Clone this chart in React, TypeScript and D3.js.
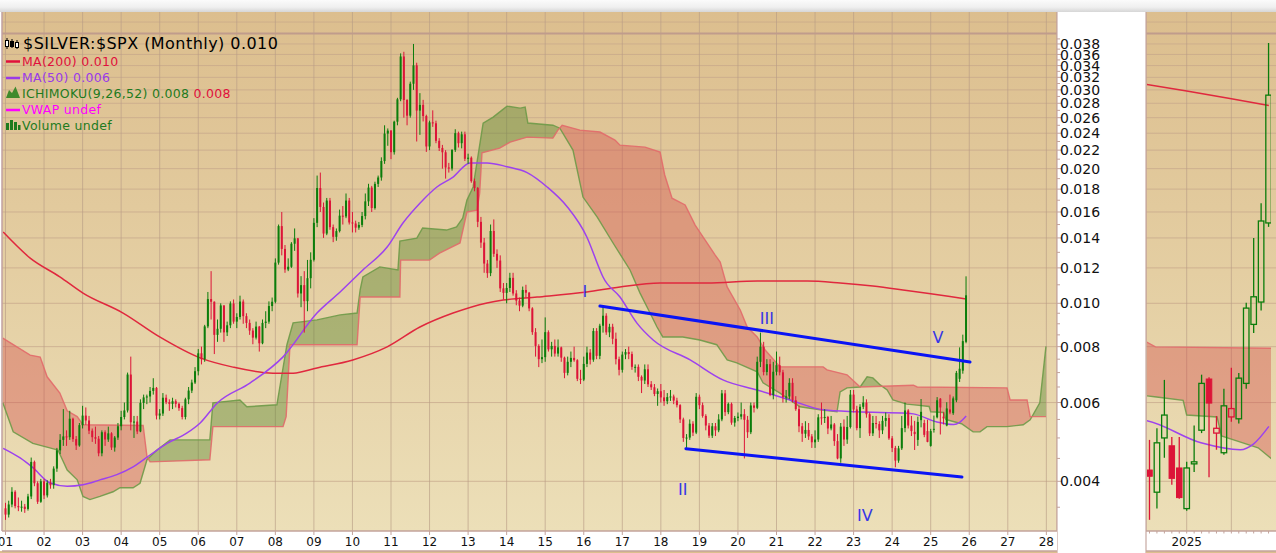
import React from "react";
import * as d3 from "d3";

type P = [number, number];

// ---------------- DATA (monthly $SILVER:$SPX, Jan 2001 .. Dec 2025) ----------------
const firstYear = 2001;

const opens: number[] = [
  0.00348, 0.00337, 0.00355, 0.00379, 0.00352, 0.0035, 0.00351, 0.00347, 0.0037, 0.00442, 0.00396, 0.0036,
  0.004, 0.00372, 0.00397, 0.00392, 0.00427, 0.00469, 0.00495, 0.00504, 0.00502, 0.00552, 0.00497, 0.00481,
  0.00534, 0.00561, 0.00547, 0.00519, 0.00502, 0.00498, 0.00462, 0.00515, 0.00496, 0.00512, 0.00476, 0.00501,
  0.00531, 0.00557, 0.00576, 0.00693, 0.00542, 0.00544, 0.00517, 0.00599, 0.00616, 0.00619, 0.00637, 0.00647,
  0.00561, 0.00567, 0.00615, 0.00601, 0.00596, 0.00604, 0.00596, 0.00583, 0.00557, 0.0061, 0.00638, 0.00665,
  0.00705, 0.00773, 0.0075, 0.00888, 0.01022, 0.01008, 0.0085, 0.00877, 0.00989, 0.00861, 0.00893, 0.00999,
  0.0091, 0.00932, 0.01009, 0.00936, 0.00904, 0.00869, 0.00838, 0.00887, 0.00814, 0.00904, 0.0091, 0.00986,
  0.01008, 0.01233, 0.01488, 0.01323, 0.0119, 0.01207, 0.01359, 0.01397, 0.01052, 0.01098, 0.01011, 0.01138,
  0.01251, 0.01513, 0.0181, 0.01642, 0.01432, 0.01697, 0.0148, 0.01408, 0.0145, 0.0157, 0.01564, 0.01697,
  0.01516, 0.01508, 0.01476, 0.01497, 0.01567, 0.0169, 0.01814, 0.01633, 0.01849, 0.01911, 0.0208, 0.02396,
  0.02432, 0.02177, 0.02547, 0.02858, 0.03563, 0.02848, 0.02627, 0.03096, 0.03404, 0.02697, 0.02777, 0.02622,
  0.02242, 0.02538, 0.02526, 0.02308, 0.02225, 0.02176, 0.02012, 0.02001, 0.02203, 0.02401, 0.0228, 0.02387,
  0.02104, 0.02116, 0.01875, 0.0181, 0.01521, 0.01367, 0.01227, 0.01168, 0.01451, 0.0129, 0.01246, 0.0108,
  0.01055, 0.01082, 0.0114, 0.01052, 0.01014, 0.00988, 0.01071, 0.01056, 0.00974, 0.00862, 0.00803, 0.0075,
  0.00758, 0.00862, 0.00789, 0.00803, 0.00772, 0.00797, 0.00756, 0.00699, 0.0074, 0.00755, 0.00746, 0.00678,
  0.00675, 0.00732, 0.00776, 0.00748, 0.00867, 0.00763, 0.00891, 0.00938, 0.00861, 0.00886, 0.00833, 0.0075,
  0.0071, 0.00768, 0.00778, 0.0077, 0.00721, 0.00721, 0.00685, 0.00672, 0.00712, 0.00659, 0.00649, 0.00627,
  0.00636, 0.00616, 0.00604, 0.00617, 0.00619, 0.00606, 0.00592, 0.0055, 0.005, 0.00501, 0.00538, 0.00514,
  0.00618, 0.00592, 0.0056, 0.00533, 0.00506, 0.00531, 0.0052, 0.0055, 0.00629, 0.00571, 0.00596, 0.00541,
  0.00554, 0.00558, 0.00565, 0.00549, 0.00515, 0.00591, 0.00584, 0.0074, 0.008, 0.00702, 0.00731, 0.00624,
  0.00703, 0.00727, 0.00701, 0.00617, 0.00619, 0.00664, 0.00607, 0.0058, 0.00531, 0.00511, 0.00521, 0.00504,
  0.00489, 0.00496, 0.00556, 0.00554, 0.00557, 0.00525, 0.00536, 0.00492, 0.0045, 0.0053, 0.00496, 0.00529,
  0.00625, 0.00579, 0.00526, 0.00587, 0.006, 0.00565, 0.00512, 0.0054, 0.00537, 0.0052, 0.00546, 0.00554,
  0.00499, 0.00475, 0.00445, 0.00474, 0.00526, 0.00576, 0.00533, 0.00516, 0.00495, 0.00548, 0.0054, 0.00518,
  0.0048, 0.00522, 0.00556, 0.00612, 0.00553, 0.00533, 0.0057, 0.00568, 0.00607, 0.00678, 0.00707, 0.0082,
];

const highs: number[] = [
  0.00358, 0.00362, 0.00388, 0.00382, 0.00368, 0.00362, 0.00356, 0.00375, 0.00452, 0.00445, 0.004, 0.00405,
  0.00405, 0.00402, 0.00405, 0.00432, 0.00475, 0.0051, 0.0058, 0.0052, 0.00575, 0.00555, 0.00505, 0.0054,
  0.0059, 0.00585, 0.0056, 0.00525, 0.0053, 0.00505, 0.0052, 0.0052, 0.0053, 0.00515, 0.00505, 0.0054,
  0.00575, 0.006, 0.007, 0.0076, 0.0056, 0.0056, 0.0061, 0.00625, 0.00625, 0.0065, 0.0068, 0.0065,
  0.0058, 0.0063, 0.00625, 0.0061, 0.00615, 0.0061, 0.006, 0.0059, 0.00615, 0.0065, 0.00675, 0.0072,
  0.0079, 0.008, 0.00895, 0.0106, 0.0118, 0.0101, 0.0092, 0.01, 0.0099, 0.0091, 0.0101, 0.0102,
  0.0095, 0.0104, 0.0102, 0.0095, 0.0092, 0.0088, 0.0091, 0.0089, 0.0092, 0.0096, 0.0101, 0.0103,
  0.0126, 0.015, 0.016, 0.0135, 0.0126, 0.0137, 0.0147, 0.014, 0.0115, 0.0118, 0.0125, 0.013,
  0.0155, 0.0193, 0.0196, 0.0168, 0.0172, 0.0172, 0.015, 0.0147, 0.0162, 0.0165, 0.0176, 0.0172,
  0.016, 0.0153, 0.0152, 0.016, 0.0176, 0.0185, 0.0183, 0.0187, 0.0193, 0.0212, 0.025, 0.0246,
  0.0244, 0.0256, 0.0288, 0.0362, 0.0365, 0.0286, 0.0313, 0.038, 0.0345, 0.0295, 0.0285, 0.0264,
  0.0256, 0.027, 0.0256, 0.0234, 0.0226, 0.022, 0.0206, 0.0221, 0.0245, 0.0242, 0.0242, 0.0242,
  0.0216, 0.0213, 0.019, 0.0182, 0.0156, 0.014, 0.0125, 0.015, 0.0154, 0.0132, 0.0128, 0.0111,
  0.0111, 0.0117, 0.0117, 0.0107, 0.0103, 0.0109, 0.011, 0.0106, 0.0098, 0.0088, 0.0081, 0.0083,
  0.0093, 0.0087, 0.0082, 0.0083, 0.0083, 0.008, 0.0076, 0.0076, 0.0078, 0.008, 0.0075, 0.0071,
  0.0076, 0.008, 0.0079, 0.0088, 0.0088, 0.009, 0.0098, 0.0095, 0.009, 0.009, 0.0086, 0.0076,
  0.0078, 0.0079, 0.008, 0.0078, 0.0073, 0.0073, 0.0069, 0.0073, 0.0073, 0.0067, 0.0066, 0.00645,
  0.0066, 0.0064, 0.0063, 0.0064, 0.00625, 0.00615, 0.00595, 0.00555, 0.0051, 0.0055, 0.00545, 0.0063,
  0.00625, 0.006, 0.00565, 0.0054, 0.0054, 0.0054, 0.00565, 0.0064, 0.0064, 0.006, 0.006, 0.0056,
  0.0057, 0.006, 0.0058, 0.0056, 0.006, 0.006, 0.0076, 0.0086, 0.0082, 0.0075, 0.0075, 0.0074,
  0.0078, 0.0076, 0.0071, 0.0064, 0.0068, 0.0068, 0.0062, 0.0059, 0.0054, 0.00545, 0.0054, 0.0051,
  0.0052, 0.00565, 0.006, 0.0058, 0.0056, 0.0056, 0.0054, 0.0051, 0.0054, 0.0055, 0.0056, 0.0064,
  0.0064, 0.0059, 0.00595, 0.0062, 0.0061, 0.0057, 0.0056, 0.0056, 0.00545, 0.0056, 0.0057, 0.00565,
  0.00505, 0.0048, 0.0048, 0.0056, 0.006, 0.0058, 0.0056, 0.00546, 0.00558, 0.00611, 0.00549, 0.00549,
  0.00524, 0.00561, 0.00617, 0.00614, 0.00571, 0.00601, 0.00625, 0.00619, 0.00706, 0.00797, 0.00851, 0.01149,
];

const lows: number[] = [
  0.00328, 0.00332, 0.0035, 0.00348, 0.00343, 0.00342, 0.0034, 0.00344, 0.00365, 0.0039, 0.00356, 0.00358,
  0.00365, 0.00368, 0.00385, 0.00385, 0.0042, 0.0046, 0.0048, 0.0048, 0.00495, 0.0049, 0.0047, 0.00478,
  0.00525, 0.00535, 0.0051, 0.0049, 0.00485, 0.00455, 0.00455, 0.0048, 0.0049, 0.0047, 0.00466, 0.00495,
  0.0052, 0.0055, 0.0057, 0.0052, 0.005, 0.0051, 0.00515, 0.0058, 0.00595, 0.006, 0.00625, 0.0055,
  0.0055, 0.0056, 0.00595, 0.00575, 0.0058, 0.00585, 0.00575, 0.0055, 0.0055, 0.00595, 0.0063, 0.0066,
  0.0069, 0.0073, 0.0074, 0.0088, 0.0092, 0.0077, 0.0082, 0.0086, 0.0082, 0.00845, 0.0088, 0.009,
  0.0088, 0.0092, 0.009, 0.0088, 0.0085, 0.0081, 0.0083, 0.0078, 0.0081, 0.0088, 0.009, 0.0096,
  0.01, 0.0122, 0.0128, 0.0117, 0.0118, 0.012, 0.0131, 0.0103, 0.0098, 0.0086, 0.0096, 0.0108,
  0.0124, 0.0148, 0.016, 0.014, 0.0142, 0.0146, 0.0137, 0.0138, 0.0144, 0.015, 0.0155, 0.015,
  0.0144, 0.0144, 0.0146, 0.0148, 0.0154, 0.0165, 0.016, 0.0162, 0.0182, 0.0188, 0.0205, 0.0225,
  0.021, 0.0215, 0.025, 0.0283, 0.026, 0.025, 0.026, 0.03, 0.023, 0.0238, 0.0255, 0.0218,
  0.022, 0.0248, 0.0228, 0.0219, 0.02, 0.019, 0.0196, 0.0198, 0.0218, 0.0223, 0.0222, 0.0208,
  0.0205, 0.0186, 0.0178, 0.0148, 0.0133, 0.0117, 0.0114, 0.0115, 0.0127, 0.012, 0.0106, 0.0102,
  0.01, 0.0106, 0.0104, 0.0099, 0.0096, 0.0098, 0.0103, 0.0096, 0.0085, 0.0076, 0.0072, 0.00735,
  0.0074, 0.0078, 0.0076, 0.0076, 0.0076, 0.0074, 0.0068, 0.0069, 0.0072, 0.0074, 0.0067, 0.0066,
  0.0067, 0.0072, 0.0073, 0.0074, 0.0075, 0.0075, 0.0086, 0.0085, 0.0084, 0.0081, 0.0073, 0.0069,
  0.007, 0.0075, 0.0075, 0.0071, 0.007, 0.0067, 0.0063, 0.0066, 0.0065, 0.0064, 0.0062, 0.0059,
  0.006, 0.0059, 0.00595, 0.00605, 0.00595, 0.00585, 0.0054, 0.0049, 0.00475, 0.00495, 0.00505, 0.0051,
  0.0058, 0.00555, 0.0052, 0.005, 0.005, 0.00505, 0.00515, 0.00545, 0.0056, 0.00565, 0.00535, 0.0053,
  0.00545, 0.0055, 0.0045, 0.005, 0.0051, 0.0057, 0.0058, 0.0072, 0.0069, 0.0069, 0.0062, 0.0061,
  0.0069, 0.0069, 0.006, 0.006, 0.0061, 0.006, 0.00575, 0.00515, 0.0049, 0.005, 0.00495, 0.00475,
  0.00475, 0.0049, 0.00535, 0.0054, 0.0051, 0.0052, 0.0048, 0.00448, 0.0044, 0.0048, 0.00485, 0.00525,
  0.0057, 0.0052, 0.005, 0.0058, 0.00555, 0.00505, 0.00505, 0.00525, 0.005, 0.0051, 0.0053, 0.00495,
  0.00465, 0.0043, 0.0044, 0.0047, 0.00515, 0.00525, 0.00505, 0.0047, 0.0048, 0.00528, 0.00502, 0.00489,
  0.00478, 0.00514, 0.00553, 0.00509, 0.00536, 0.00531, 0.00565, 0.00563, 0.00601, 0.00667, 0.00696, 0.00814,
];

const closes: number[] = [
  0.00337, 0.00355, 0.00379, 0.00352, 0.0035, 0.00351, 0.00347, 0.0037, 0.00442, 0.00396, 0.0036, 0.004,
  0.00372, 0.00397, 0.00392, 0.00427, 0.00469, 0.00495, 0.00504, 0.00502, 0.00552, 0.00497, 0.00481, 0.00534,
  0.00561, 0.00547, 0.00519, 0.00502, 0.00498, 0.00462, 0.00515, 0.00496, 0.00512, 0.00476, 0.00501, 0.00531,
  0.00557, 0.00576, 0.00693, 0.00542, 0.00544, 0.00517, 0.00599, 0.00616, 0.00619, 0.00637, 0.00647, 0.00561,
  0.00567, 0.00615, 0.00601, 0.00596, 0.00604, 0.00596, 0.00583, 0.00557, 0.0061, 0.00638, 0.00665, 0.00705,
  0.00773, 0.0075, 0.00888, 0.01022, 0.01008, 0.0085, 0.00877, 0.00989, 0.00861, 0.00893, 0.00999, 0.0091,
  0.00932, 0.01009, 0.00936, 0.00904, 0.00869, 0.00838, 0.00887, 0.00814, 0.00904, 0.0091, 0.00986, 0.01008,
  0.01233, 0.01488, 0.01323, 0.0119, 0.01207, 0.01359, 0.01397, 0.01052, 0.01098, 0.01011, 0.01138, 0.01251,
  0.01513, 0.0181, 0.01642, 0.01432, 0.01697, 0.0148, 0.01408, 0.0145, 0.0157, 0.01564, 0.01697, 0.01516,
  0.01508, 0.01476, 0.01497, 0.01567, 0.0169, 0.01814, 0.01633, 0.01849, 0.01911, 0.0208, 0.02396, 0.02432,
  0.02177, 0.02547, 0.02858, 0.03563, 0.02848, 0.02627, 0.03096, 0.03404, 0.02697, 0.02777, 0.02622, 0.02242,
  0.02538, 0.02526, 0.02308, 0.02225, 0.02176, 0.02012, 0.02001, 0.02203, 0.02401, 0.0228, 0.02387, 0.02104,
  0.02116, 0.01875, 0.0181, 0.01521, 0.01367, 0.01227, 0.01168, 0.01451, 0.0129, 0.01246, 0.0108, 0.01055,
  0.01082, 0.0114, 0.01052, 0.01014, 0.00988, 0.01071, 0.01056, 0.00974, 0.00862, 0.00803, 0.0075, 0.00758,
  0.00862, 0.00789, 0.00803, 0.00772, 0.00797, 0.00756, 0.00699, 0.0074, 0.00755, 0.00746, 0.00678, 0.00675,
  0.00732, 0.00776, 0.00748, 0.00867, 0.00763, 0.00891, 0.00938, 0.00861, 0.00886, 0.00833, 0.0075, 0.0071,
  0.00768, 0.00778, 0.0077, 0.00721, 0.00721, 0.00685, 0.00672, 0.00712, 0.00659, 0.00649, 0.00627, 0.00636,
  0.00616, 0.00604, 0.00617, 0.00619, 0.00606, 0.00592, 0.0055, 0.005, 0.00501, 0.00538, 0.00514, 0.00618,
  0.00592, 0.0056, 0.00533, 0.00506, 0.00531, 0.0052, 0.0055, 0.00629, 0.00571, 0.00596, 0.00541, 0.00554,
  0.00558, 0.00565, 0.00549, 0.00515, 0.00591, 0.00584, 0.0074, 0.008, 0.00702, 0.00731, 0.00624, 0.00703,
  0.00727, 0.00701, 0.00617, 0.00619, 0.00664, 0.00607, 0.0058, 0.00531, 0.00511, 0.00521, 0.00504, 0.00489,
  0.00496, 0.00556, 0.00554, 0.00557, 0.00525, 0.00536, 0.00492, 0.0045, 0.0053, 0.00496, 0.00529, 0.00625,
  0.00579, 0.00526, 0.00587, 0.006, 0.00565, 0.00512, 0.0054, 0.00537, 0.0052, 0.00546, 0.00554, 0.00499,
  0.00475, 0.00445, 0.00474, 0.00526, 0.00576, 0.00533, 0.00518, 0.0051, 0.00543, 0.00572, 0.00508, 0.0049,
  0.00518, 0.00524, 0.00607, 0.00585, 0.00558, 0.00582, 0.00579, 0.00613, 0.00699, 0.00714, 0.00823, 0.01042,
];

const ma200: P[] = [
  [2000.94, 0.01443], [2001.64, 0.01262], [2002.41, 0.01146], [2003.01, 0.01054], [2004.05, 0.00951],
  [2005.01, 0.0084], [2006.05, 0.00755], [2006.9, 0.0072], [2007.94, 0.00698], [2008.46, 0.00698],
  [2009.08, 0.00717], [2010.01, 0.00747], [2010.9, 0.00799], [2011.75, 0.00885], [2012.61, 0.00951],
  [2013.49, 0.01002], [2013.91, 0.01017], [2014.79, 0.01033], [2016.08, 0.0106], [2016.94, 0.01088],
  [2017.98, 0.0111], [2019.2, 0.0111], [2020.5, 0.01121], [2021.8, 0.01121], [2022.65, 0.0111],
  [2023.5, 0.01093], [2024.38, 0.01068], [2025.0, 0.0105], [2025.5, 0.01035], [2025.92, 0.01022],
];

const ma50: P[] = [
  [2000.94, 0.00474], [2001.38, 0.00451], [2001.71, 0.00429], [2002.15, 0.00397], [2002.6, 0.0039],
  [2003.01, 0.00393], [2003.45, 0.00403], [2003.89, 0.00414], [2004.31, 0.00431], [2004.75, 0.00458],
  [2005.19, 0.00486], [2005.71, 0.00513], [2006.05, 0.0054], [2006.49, 0.00598], [2007.34, 0.00663],
  [2008.2, 0.00759], [2009.08, 0.00951], [2009.68, 0.0106], [2010.27, 0.01187], [2010.9, 0.01336],
  [2011.31, 0.01512], [2011.75, 0.01674], [2012.19, 0.0182], [2012.61, 0.01915], [2013.05, 0.0206],
  [2013.49, 0.0206], [2014.01, 0.0202], [2014.53, 0.0196], [2015.05, 0.0182], [2015.57, 0.01644],
  [2016.08, 0.01407], [2016.42, 0.01187], [2016.5, 0.01145], [2016.94, 0.01033], [2017.38, 0.00903],
  [2017.8, 0.00828], [2018.76, 0.00747], [2019.61, 0.00674], [2020.5, 0.0064], [2021.35, 0.00608],
  [2022.21, 0.00578], [2023.09, 0.00572], [2024.38, 0.00568], [2024.55, 0.00566], [2025.16, 0.00543],
  [2025.6, 0.00536], [2025.75, 0.00542], [2025.92, 0.0056],
];

// Ichimoku leading span A (green edge) and span B (red edge), projected 26 months ahead
const spanA: P[] = [
  [2000.93, 0.00599], [2001.2, 0.00516], [2001.71, 0.00486], [2002.15, 0.00475], [2002.36, 0.0047],
  [2002.6, 0.00424], [2002.86, 0.00403], [2003.01, 0.0037], [2003.19, 0.00364], [2003.45, 0.0037],
  [2003.79, 0.00379], [2003.97, 0.00387], [2004.31, 0.00387], [2004.49, 0.00396], [2004.67, 0.00447],
  [2004.93, 0.0047], [2005.27, 0.00495], [2006.3, 0.00495], [2006.38, 0.00599], [2007.08, 0.00608],
  [2007.26, 0.00587], [2008.04, 0.00593], [2008.3, 0.00808], [2008.46, 0.00904], [2009.08, 0.00918],
  [2009.68, 0.00942], [2010.12, 0.00951], [2010.2, 0.01071], [2010.27, 0.01145], [2010.71, 0.01206],
  [2011.18, 0.01187], [2011.23, 0.01378], [2011.67, 0.01399], [2011.82, 0.01474], [2012.44, 0.01458],
  [2012.7, 0.01481], [2012.86, 0.01551], [2012.97, 0.01701], [2013.13, 0.0182], [2013.39, 0.02529],
  [2013.65, 0.02608], [2013.88, 0.02703], [2014.01, 0.02759], [2014.35, 0.02731], [2014.48, 0.02745],
  [2014.55, 0.02529], [2015.2, 0.02501], [2015.38, 0.02463], [2015.72, 0.022], [2015.98, 0.01728],
  [2016.35, 0.01559], [2016.76, 0.01364], [2017.2, 0.01187], [2017.46, 0.01054], [2017.72, 0.00951],
  [2017.9, 0.00885], [2018.05, 0.00841], [2018.57, 0.00841], [2019.01, 0.00828], [2019.45, 0.00808],
  [2019.72, 0.00747], [2019.97, 0.00736], [2020.5, 0.00703], [2020.65, 0.00664], [2021.09, 0.0063],
  [2021.61, 0.00587], [2022.13, 0.00578], [2022.57, 0.00572], [2022.65, 0.00634], [2022.83, 0.00647],
  [2023.17, 0.0065], [2023.35, 0.00685], [2023.5, 0.00681], [2023.69, 0.00657], [2023.87, 0.0064],
  [2024.02, 0.00608], [2024.38, 0.00595], [2024.64, 0.00592], [2024.96, 0.00588], [2025.0, 0.00572],
  [2025.34, 0.0057], [2025.39, 0.0055], [2025.56, 0.00545], [2025.8, 0.00538], [2026.1, 0.00516],
  [2026.28, 0.00516], [2026.46, 0.0053], [2026.98, 0.0053], [2027.4, 0.00535], [2027.58, 0.00549],
  [2027.83, 0.00599], [2027.99, 0.00801],
];

const spanB: P[] = [
  [2000.93, 0.00836], [2001.64, 0.00766], [2001.9, 0.00758], [2002.08, 0.00685], [2002.41, 0.0063],
  [2002.6, 0.00575], [2002.86, 0.00558], [2003.01, 0.00535], [2004.57, 0.00533], [2004.67, 0.00454],
  [2004.75, 0.00442], [2006.3, 0.00447], [2006.38, 0.0053], [2008.2, 0.0053], [2008.28, 0.00558],
  [2008.38, 0.00808], [2010.12, 0.00808], [2010.2, 0.01033], [2011.23, 0.01033], [2011.25, 0.01249],
  [2012.0, 0.01249], [2012.26, 0.01295], [2012.79, 0.01364], [2012.97, 0.016], [2013.23, 0.01616],
  [2013.3, 0.01763], [2013.36, 0.02169], [2013.82, 0.02223], [2014.09, 0.02292], [2014.53, 0.02352],
  [2015.2, 0.0234], [2015.33, 0.02439], [2015.44, 0.02501], [2015.9, 0.02439], [2016.42, 0.02415],
  [2016.81, 0.02317], [2016.94, 0.02257], [2017.59, 0.02234], [2017.98, 0.02178], [2018.1, 0.01936],
  [2018.29, 0.01718], [2018.63, 0.01659], [2018.89, 0.01496], [2019.15, 0.01385], [2019.41, 0.01282],
  [2019.54, 0.01237], [2019.72, 0.01088], [2020.06, 0.00966], [2020.24, 0.00885], [2020.5, 0.00841],
  [2020.7, 0.00787], [2021.09, 0.00721], [2022.21, 0.00721], [2022.31, 0.0071], [2022.83, 0.00692],
  [2023.17, 0.0065], [2024.55, 0.00656], [2024.65, 0.0065], [2026.98, 0.00647], [2027.06, 0.00608],
  [2027.5, 0.00608], [2027.58, 0.00558], [2027.99, 0.00558],
];

// hand-drawn annotation channel and wave labels
const channelUpper: P[] = [[2016.42, 0.00986], [2026.02, 0.00739]];
const channelLower: P[] = [[2018.65, 0.00473], [2025.81, 0.00409]];
const waveNames = ["I", "II", "III", "IV", "V"];
const wavePoints: P[] = [[2016.03, 0.01033], [2018.57, 0.00373], [2020.75, 0.00899], [2023.29, 0.00326], [2025.19, 0.00815]];

// axes
const yearTicks = [2001, 2002, 2003, 2004, 2005, 2006, 2007, 2008, 2009, 2010, 2011, 2012, 2013, 2014,
  2015, 2016, 2017, 2018, 2019, 2020, 2021, 2022, 2023, 2024, 2025, 2026, 2027, 2028];
const yearLabels = ["01", "02", "03", "04", "05", "06", "07", "08", "09", "10", "11", "12", "13", "14",
  "15", "16", "17", "18", "19", "20", "21", "22", "23", "24", "25", "26", "27", "28"];
const priceTicks = [0.004, 0.006, 0.008, 0.01, 0.012, 0.014, 0.016, 0.018, 0.02, 0.022, 0.024, 0.026,
  0.028, 0.03, 0.032, 0.034, 0.036, 0.038];
const priceLabels = ["0.004", "0.006", "0.008", "0.010", "0.012", "0.014", "0.016", "0.018", "0.020",
  "0.022", "0.024", "0.026", "0.028", "0.030", "0.032", "0.034", "0.036", "0.038"];
const minorPriceTicks = [0.0035, 0.0045, 0.005, 0.0055, 0.0065, 0.007, 0.0075, 0.0085, 0.009, 0.0095,
  0.011, 0.013, 0.015, 0.017, 0.019, 0.021, 0.023, 0.025, 0.027, 0.029, 0.031, 0.033, 0.035, 0.037, 0.039];
const rightGridYears = [2025, 2025.5];
const rightLabelYears = [2025];
const rightLabels = ["2025"];

// ---------------- LAYOUT ----------------
const W = 1276;
const H = 553;
const TOP = 12;
const SEP = 33.5;
const PLOT_TOP = 34;
const PLOT_BOTTOM = 531;
const MAIN_LEFT = 2;
const MAIN_RIGHT = 1057;
const RIGHT_LEFT = 1146;
const RIGHT_CLIP = 1271;
const BAND_BOTTOM = 551;

const GREEN = "#0b7d0b";
const RED = "#dc1438";
const FONT = "DejaVu Sans, Verdana, sans-serif";

type Sc = (v: number) => number;

function Panel(props: { id: string; xs: Sc; ys: Sc; bodyW: number; hollow: boolean }) {
  const { id, xs, ys, bodyW, hollow } = props;
  const above = d3.area<P>().x((d) => xs(d[0])).y0(-3000).y1((d) => ys(d[1]));
  const below = d3.area<P>().x((d) => xs(d[0])).y0(3000).y1((d) => ys(d[1]));
  const lin = d3.line<P>().x((d) => xs(d[0])).y((d) => ys(d[1]));
  const smooth = d3.line<P>().x((d) => xs(d[0])).y((d) => ys(d[1])).curve(d3.curveMonotoneX);
  return (
    <g>
      <defs>
        <clipPath id={`${id}-aboveB`}>
          <path d={above(spanB) || ""} />
        </clipPath>
        <clipPath id={`${id}-aboveA`}>
          <path d={above(spanA) || ""} />
        </clipPath>
      </defs>
      <path d={below(spanA) || ""} fill="rgb(80,130,40)" fillOpacity={0.4} clipPath={`url(#${id}-aboveB)`} />
      <path d={below(spanB) || ""} fill="rgb(210,70,70)" fillOpacity={0.38} clipPath={`url(#${id}-aboveA)`} />
      <path d={lin(spanA) || ""} fill="none" stroke="#6e9a48" strokeWidth={1.4} strokeOpacity={0.9} />
      <path d={lin(spanB) || ""} fill="none" stroke="#e26a6a" strokeWidth={1.4} strokeOpacity={0.9} />
      <path d={smooth(ma200) || ""} fill="none" stroke="#e0283e" strokeWidth={1.5} />
      <path d={smooth(ma50) || ""} fill="none" stroke="#9d42ee" strokeWidth={1.5} />
      {closes.map((c, i) => {
        const t = firstYear + i / 12;
        const cx = xs(t);
        const o = opens[i];
        const prev = i > 0 ? closes[i - 1] : o;
        const col = c >= prev ? GREEN : RED;
        const yTop = ys(Math.max(o, c));
        const yBot = ys(Math.min(o, c));
        const h = Math.max(1, yBot - yTop);
        const isHollow = hollow && c > o;
        return (
          <g key={i}>
            {hollow ? (
              <g>
                <line x1={cx} x2={cx} y1={ys(highs[i])} y2={yTop} stroke={col} strokeWidth={1.3} />
                <line x1={cx} x2={cx} y1={yTop + h} y2={ys(lows[i])} stroke={col} strokeWidth={1.3} />
              </g>
            ) : (
              <line x1={cx} x2={cx} y1={ys(highs[i])} y2={ys(lows[i])} stroke={col} strokeWidth={1} />
            )}
            {isHollow ? (
              <rect x={cx - bodyW / 2} y={yTop} width={bodyW} height={h} fill="none" stroke={col} strokeWidth={1.3} />
            ) : (
              <rect x={cx - bodyW / 2} y={yTop} width={bodyW} height={h} fill={col} stroke={hollow ? col : "none"} strokeWidth={hollow ? 1 : 0} />
            )}
          </g>
        );
      })}
    </g>
  );
}

export default function App() {
  const x = d3.scaleLinear().domain([2001, 2028]).range([5.5, 1046.35]);
  const y = d3.scaleLog().domain([0.004, 0.01]).range([481.3, 303.3]);
  const xr = d3.scaleLinear().domain([2025, 2026]).range([1186.7, 1276]);
  const yr = d3.scaleLog().domain([0.00823, 0.01149]).range([221, 43]);
  const chan = d3.line<P>().x((d) => x(d[0])).y((d) => y(d[1]));
  const rightMonths = closes.map((_, i) => firstYear + i / 12).filter((t) => t > 2024.5);

  return (
    <div style={{ position: "fixed", left: 0, top: 0, width: W, height: H, background: "#fff" }}>
      <svg width={W} height={H} viewBox={`0 0 ${W} ${H}`} style={{ display: "block" }}>
        <defs>
          <linearGradient id="bg" gradientUnits="userSpaceOnUse" x1={0} y1={TOP} x2={0} y2={PLOT_BOTTOM}>
            <stop offset="0" stopColor="#dcbe8e" />
            <stop offset="0.5" stopColor="#e4cea2" />
            <stop offset="1" stopColor="#ecdfb8" />
          </linearGradient>
          <linearGradient id="topbar" x1={0} y1={0} x2={0} y2={1}>
            <stop offset="0" stopColor="#fbfbfb" />
            <stop offset="0.6" stopColor="#efefef" />
            <stop offset="1" stopColor="#d6d6d6" />
          </linearGradient>
          <clipPath id="mainClip">
            <rect x={MAIN_LEFT} y={PLOT_TOP} width={MAIN_RIGHT - MAIN_LEFT} height={PLOT_BOTTOM - PLOT_TOP} />
          </clipPath>
          <clipPath id="rightClip">
            <rect x={RIGHT_LEFT + 1} y={PLOT_TOP} width={RIGHT_CLIP - RIGHT_LEFT - 1} height={PLOT_BOTTOM - PLOT_TOP} />
          </clipPath>
        </defs>

        <rect x={0} y={0} width={W} height={H} fill="#ffffff" />
        {/* panels background */}
        <rect x={MAIN_LEFT} y={TOP} width={MAIN_RIGHT - MAIN_LEFT} height={PLOT_BOTTOM - TOP} fill="url(#bg)" />
        <rect x={RIGHT_LEFT} y={TOP} width={W - RIGHT_LEFT} height={PLOT_BOTTOM - TOP} fill="url(#bg)" />

        {/* grid: horizontal */}
        {priceTicks.map((v, i) => (
          <g key={"hg" + i}>
            <line x1={MAIN_LEFT} x2={MAIN_RIGHT} y1={y(v)} y2={y(v)} stroke="#c4a58a" strokeOpacity={0.7} strokeWidth={1} />
            <line x1={RIGHT_LEFT} x2={W} y1={y(v)} y2={y(v)} stroke="#c4a58a" strokeOpacity={0.7} strokeWidth={1} />
          </g>
        ))}
        <line x1={MAIN_LEFT} x2={MAIN_RIGHT} y1={22} y2={22} stroke="#c4a58a" strokeOpacity={0.6} />
        <line x1={RIGHT_LEFT} x2={W} y1={22} y2={22} stroke="#c4a58a" strokeOpacity={0.6} />
        {/* grid: vertical */}
        {yearTicks.map((t, i) => (
          <line key={"vg" + i} x1={x(t)} x2={x(t)} y1={TOP} y2={PLOT_BOTTOM} stroke="#b89c86" strokeOpacity={0.65} strokeWidth={1} />
        ))}
        {rightGridYears.map((t, i) => (
          <line key={"rvg" + i} x1={xr(t)} x2={xr(t)} y1={TOP} y2={PLOT_BOTTOM} stroke="#b89c86" strokeOpacity={0.65} strokeWidth={1} />
        ))}
        {/* separator of upper strip */}
        <line x1={MAIN_LEFT} x2={MAIN_RIGHT} y1={SEP} y2={SEP} stroke="#c09c8c" strokeWidth={2} />
        <line x1={RIGHT_LEFT} x2={W} y1={SEP} y2={SEP} stroke="#c09c8c" strokeWidth={2} />

        {/* main chart */}
        <g clipPath="url(#mainClip)">
          <Panel id="main" xs={x} ys={y} bodyW={2} hollow={false} />
          <path d={chan(channelUpper) || ""} stroke="#0a14f5" strokeWidth={3} fill="none" strokeLinecap="round" />
          <path d={chan(channelLower) || ""} stroke="#0a14f5" strokeWidth={3} fill="none" strokeLinecap="round" />
          {waveNames.map((n, i) => (
            <text key={"w" + i} x={x(wavePoints[i][0])} y={y(wavePoints[i][1])} textAnchor="middle"
              fontFamily={FONT} fontSize={16} fill="#3636e6">{n}</text>
          ))}
        </g>

        {/* right zoomed chart */}
        <g clipPath="url(#rightClip)">
          <Panel id="right" xs={xr} ys={yr} bodyW={5.5} hollow={true} />
        </g>

        {/* legend */}
        <g fontFamily={FONT}>
          <g stroke="#000" strokeWidth={1}>
            <line x1={7} x2={7} y1={38} y2={49} />
            <rect x={5.5} y={40.5} width={3} height={6} fill="#fff" />
            <line x1={12} x2={12} y1={39} y2={48} />
            <rect x={10.5} y={41.5} width={3} height={5} fill="#000" />
            <line x1={17} x2={17} y1={40} y2={49} />
            <rect x={15.5} y={42.5} width={3} height={5} fill="#fff" />
          </g>
          <text x={23} y={49} fontSize={16} letterSpacing={0.45} fill="#000">$SILVER:$SPX (Monthly) 0.010</text>
          <line x1={6} x2={20} y1={61.5} y2={61.5} stroke="#e0103c" strokeWidth={2.5} />
          <text x={22} y={65.7} fontSize={12.5} letterSpacing={0.3} fill="#e0103c">MA(200) 0.010</text>
          <line x1={6} x2={20} y1={78} y2={78} stroke="#9a3ae8" strokeWidth={2.5} />
          <text x={22} y={82.3} fontSize={12.5} letterSpacing={0.3} fill="#9a3ae8">MA(50) 0.006</text>
          <polygon points="6,98 9,90 12,93 15.5,86.5 20,98" fill="#3f8a2c" />
          <text x={22} y={97.7} fontSize={12.5} letterSpacing={0.3}>
            <tspan fill="#1e7b1e">ICHIMOKU(9,26,52) 0.008 </tspan>
            <tspan fill="#e0103c">0.008</tspan>
          </text>
          <line x1={6} x2={20} y1={110} y2={110} stroke="#ff00ff" strokeWidth={2.5} />
          <text x={22} y={114.3} fontSize={12.5} letterSpacing={0.3} fill="#ff00ff">VWAP undef</text>
          <g fill="#1e7b1e">
            <rect x={6} y={123} width={3} height={7} />
            <rect x={10} y={120} width={3} height={10} />
            <rect x={14} y={122} width={3} height={8} />
            <rect x={18} y={125} width={2.5} height={5} />
          </g>
          <text x={22} y={130} fontSize={12.5} letterSpacing={0.3} fill="#1e7b1e">Volume undef</text>
        </g>

        {/* panel borders */}
        <line x1={MAIN_LEFT} x2={MAIN_LEFT} y1={TOP} y2={PLOT_BOTTOM} stroke="#c0a0a0" strokeWidth={1.5} />
        <line x1={MAIN_RIGHT} x2={MAIN_RIGHT} y1={TOP} y2={H} stroke="#c3a39b" strokeWidth={1.5} />
        <line x1={RIGHT_LEFT} x2={RIGHT_LEFT} y1={TOP} y2={H} stroke="#c3a39b" strokeWidth={1.5} />

        {/* y axis column */}
        <rect x={MAIN_RIGHT + 0.75} y={TOP} width={RIGHT_LEFT - MAIN_RIGHT - 1.5} height={H - TOP} fill="#fff" />
        {minorPriceTicks.map((v, i) => (
          <line key={"mt" + i} x1={MAIN_RIGHT} x2={MAIN_RIGHT + 3} y1={y(v)} y2={y(v)} stroke="#c3a39b" strokeWidth={1} />
        ))}
        {priceTicks.map((v, i) => (
          <g key={"yt" + i}>
            <line x1={MAIN_RIGHT} x2={MAIN_RIGHT + 5} y1={y(v)} y2={y(v)} stroke="#c3a39b" strokeWidth={1} />
            <text x={1060} y={y(v)} dy="0.36em" fontFamily={FONT} fontSize={14} fill="#111">{priceLabels[i]}</text>
          </g>
        ))}

        {/* x label band */}
        <rect x={0} y={PLOT_BOTTOM} width={MAIN_RIGHT} height={BAND_BOTTOM - PLOT_BOTTOM} fill="#fff" />
        <rect x={RIGHT_LEFT + 0.75} y={PLOT_BOTTOM} width={W - RIGHT_LEFT} height={BAND_BOTTOM - PLOT_BOTTOM} fill="#fff" />
        <line x1={MAIN_LEFT} x2={MAIN_RIGHT} y1={PLOT_BOTTOM} y2={PLOT_BOTTOM} stroke="#c3a39b" strokeWidth={1.5} />
        <line x1={RIGHT_LEFT} x2={W} y1={PLOT_BOTTOM} y2={PLOT_BOTTOM} stroke="#c3a39b" strokeWidth={1.5} />
        {yearTicks.map((t, i) => (
          <g key={"xt" + i}>
            <line x1={x(t)} x2={x(t)} y1={PLOT_BOTTOM} y2={PLOT_BOTTOM + 4} stroke="#c3a39b" />
            <text x={x(t)} y={546} textAnchor="middle" fontFamily={FONT} fontSize={12} fill="#111">{yearLabels[i]}</text>
          </g>
        ))}
        {rightMonths.map((t, i) => (
          <line key={"rmt" + i} x1={xr(t)} x2={xr(t)} y1={PLOT_BOTTOM} y2={PLOT_BOTTOM + 2.5} stroke="#c3a39b" />
        ))}
        {rightLabelYears.map((t, i) => (
          <text key={"rl" + i} x={xr(t)} y={546} textAnchor="middle" fontFamily={FONT} fontSize={12} fill="#111">{rightLabels[i]}</text>
        ))}
        <rect x={0} y={BAND_BOTTOM} width={MAIN_RIGHT} height={H - BAND_BOTTOM} fill="#dcbe8e" />
        <rect x={RIGHT_LEFT} y={BAND_BOTTOM} width={W - RIGHT_LEFT} height={H - BAND_BOTTOM} fill="#dcbe8e" />
        <line x1={MAIN_LEFT} x2={MAIN_RIGHT} y1={BAND_BOTTOM} y2={BAND_BOTTOM} stroke="#c3a39b" strokeWidth={1.5} />
        <line x1={RIGHT_LEFT} x2={W} y1={BAND_BOTTOM} y2={BAND_BOTTOM} stroke="#c3a39b" strokeWidth={1.5} />

        {/* top window strip */}
        <rect x={0} y={0} width={W} height={TOP} fill="url(#topbar)" />
      </svg>
    </div>
  );
}
